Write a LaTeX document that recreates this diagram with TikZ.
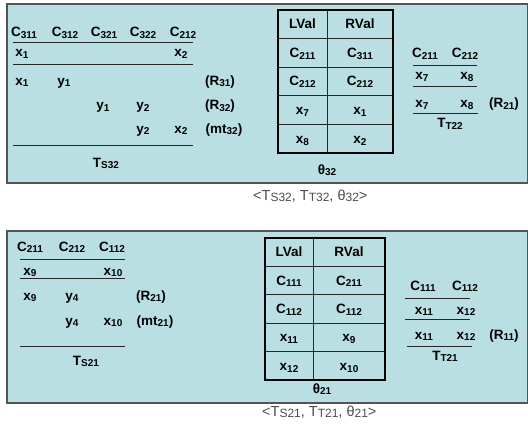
\documentclass[tikz,border=0pt]{standalone}
\usepackage{fontspec}
\setmainfont{Liberation Sans}
\usepackage{xcolor}
\definecolor{panelfill}{RGB}{185,223,226}
\definecolor{panelline}{RGB}{85,85,85}
\newcommand{\subsize}{10}
\newcommand{\ix}[1]{\raisebox{-1.8pt}{\fontsize{\subsize}{10}\selectfont #1}}
\tikzset{
	txt/.style={anchor=base, inner sep=0pt, font=\fontsize{13.5}{15}\selectfont\bfseries},
	rule/.style={draw=black!85, line width=0.8pt},
	panel/.style={fill=panelfill, draw=panelline, line width=1.2pt},
	tabframe/.style={draw=black, line width=2.6pt},
	tabline/.style={draw=black!85, line width=0.8pt},
	caption/.style={anchor=base west, inner sep=0pt, text=black!70, font=\fontsize{14.5}{16}\selectfont\renewcommand{\subsize}{12}}
}

\begin{document}
\begin{tikzpicture}[x=1pt,y=-1pt]
			\useasboundingbox (0,0) rectangle (528,428);
			\filldraw[panel](7,4)rectangle(527.4,183);
			\filldraw[panel](7,231)rectangle(527.4,403);
			\node[txt] (c311) at (24,37) {C\ix{311}};
			\node[txt] (c312) at (65,37) {C\ix{312}};
			\node[txt] (c321) at (104,37) {C\ix{321}};
			\node[txt] (c322) at (143,37) {C\ix{322}};
			\node[txt] (c212) at (183,37) {C\ix{212}};
			\draw[rule](13,42)--(193,42);
			\node[txt] (sx1) at (22,57) {x\ix{1}};
			\node[txt] (sx2) at (181,57) {x\ix{2}};
			\draw[rule](13,64)--(193,64);
			\node[txt] (rx1) at (22,85) {x\ix{1}};
			\node[txt] (ry1) at (64,85) {y\ix{1}};
			\node[txt] (r31) at (220,85) {(R\ix{31})};
			\node[txt] (qy1) at (103,110) {y\ix{1}};
			\node[txt] (qy2) at (143,110) {y\ix{2}};
			\node[txt] (r32) at (220,110) {(R\ix{32})};
			\node[txt] (my2) at (143,133) {y\ix{2}};
			\node[txt] (mx2) at (181,133) {x\ix{2}};
			\node[txt] (mt32) at (224,133) {(mt\ix{32})};
			\draw[rule](13,145)--(193,145);
			\node[txt] (ts32) at (106,167) {T\ix{S32}};
			\foreach \y in {38.6,67.2,95.8,124.4} \draw[tabline](278,\y)--(393,\y);
			\draw[tabline](327,10)--(327,153);
			\draw[tabframe](278,10)rectangle(393,153);
			\foreach \l/\r [count=\i from 0] in {LVal/RVal, C\ix{211}/C\ix{311}, C\ix{212}/C\ix{212}, x\ix{7}/x\ix{1}, x\ix{8}/x\ix{2}}{
				\node[txt] (tl\i) at (302.5,28.8+28.6*\i) {\l};
				\node[txt] (tr\i) at (360,28.8+28.6*\i) {\r};
			}
			\node[txt] (th32) at (327,174) {θ\ix{32}};
			\node[txt] (u211) at (425,58) {C\ix{211}};
			\node[txt] (u212) at (465,58) {C\ix{212}};
			\draw[rule](413,65)--(477,65);
			\node[txt] (ux7) at (422,80) {x\ix{7}};
			\node[txt] (ux8) at (467,80) {x\ix{8}};
			\draw[rule](413,86)--(477,86);
			\node[txt] (vx7) at (422,108) {x\ix{7}};
			\node[txt] (vx8) at (467,108) {x\ix{8}};
			\node[txt] (r21) at (504,108) {(R\ix{21})};
			\draw[rule](413,113)--(478,113);
			\node[txt] (tt22) at (450,128) {T\ix{T22}};
			\node[caption] (cap32) at (253,200) {<T\ix{S32}, T\ix{T32}, θ\ix{32}>};
			\node[txt] (d211) at (30,251) {C\ix{211}};
			\node[txt] (d212) at (72,251) {C\ix{212}};
			\node[txt] (d112) at (112,251) {C\ix{112}};
			\draw[rule](20,259)--(125,259);
			\node[txt] (dx9) at (30,275) {x\ix{9}};
			\node[txt] (dx10) at (113,275) {x\ix{10}};
			\draw[rule](20,278)--(125,278);
			\node[txt] (ex9) at (30,300) {x\ix{9}};
			\node[txt] (ey4) at (72,300) {y\ix{4}};
			\node[txt] (er21) at (151,300) {(R\ix{21})};
			\node[txt] (fy4) at (72,325) {y\ix{4}};
			\node[txt] (fx10) at (113,325) {x\ix{10}};
			\node[txt] (mt21) at (155,325) {(mt\ix{21})};
			\draw[rule](20,346)--(125,346);
			\node[txt] (ts21) at (86,365) {T\ix{S21}};
			\foreach \y in {266.4,294.8,323.2,351.6} \draw[tabline](265,\y)--(385,\y);
			\draw[tabline](313,238)--(313,380);
			\draw[tabframe](265,238)rectangle(385,380);
			\foreach \l/\r [count=\i from 0] in {LVal/RVal, C\ix{111}/C\ix{211}, C\ix{112}/C\ix{112}, x\ix{11}/x\ix{9}, x\ix{12}/x\ix{10}}{
				\node[txt] (bl\i) at (289,256.7+28.4*\i) {\l};
				\node[txt] (br\i) at (349,256.7+28.4*\i) {\r};
			}
			\node[txt] (th21) at (322,393) {θ\ix{21}};
			\node[txt] (w111) at (423,290) {C\ix{111}};
			\node[txt] (w112) at (465,290) {C\ix{112}};
			\draw[rule](405,298)--(470,298);
			\node[txt] (wx11) at (424,314) {x\ix{11}};
			\node[txt] (wx12) at (466,314) {x\ix{12}};
			\draw[rule](405,319)--(470,319);
			\node[txt] (zx11) at (424,339) {x\ix{11}};
			\node[txt] (zx12) at (466,339) {x\ix{12}};
			\node[txt] (r11) at (504,339) {(R\ix{11})};
			\draw[rule](407,346)--(472,346);
			\node[txt] (tt21) at (445,360) {T\ix{T21}};
			\node[caption] (cap21) at (262,416) {<T\ix{S21}, T\ix{T21}, θ\ix{21}>};
		\end{tikzpicture}
\end{document}
